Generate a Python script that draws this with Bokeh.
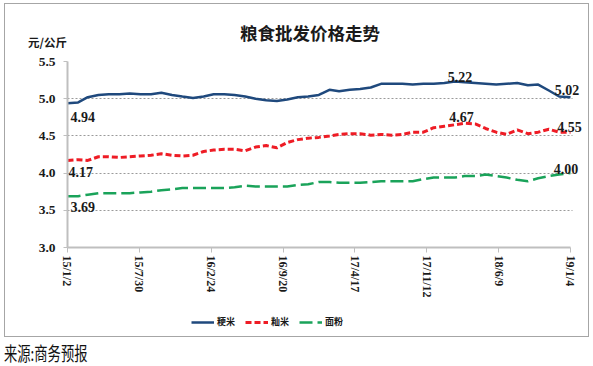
import pandas as pd
from bokeh.plotting import figure
from bokeh.models import (Range1d, FixedTicker, Legend, LegendItem,
                          ColumnDataSource, Div, PrintfTickFormatter)
from bokeh.layouts import column
from bokeh.embed import file_html
from bokeh.resources import INLINE
from bokeh.core.properties import value

# ---------------- data ----------------
start_date = "2015-01-02"
end_date = "2019-01-04"

dates = [
    "2015-01-02", "2015-02-02", "2015-03-02", "2015-04-02", "2015-05-02", "2015-06-02",
    "2015-07-02", "2015-08-02", "2015-09-02", "2015-10-02", "2015-11-02", "2015-12-02",
    "2016-01-02", "2016-02-02", "2016-03-02", "2016-04-02", "2016-05-02", "2016-06-02",
    "2016-07-02", "2016-08-02", "2016-09-02", "2016-10-02", "2016-11-02", "2016-12-02",
    "2017-01-02", "2017-02-02", "2017-03-02", "2017-04-02", "2017-05-02", "2017-06-02",
    "2017-07-02", "2017-08-02", "2017-09-02", "2017-10-02", "2017-11-02", "2017-12-02",
    "2018-01-02", "2018-02-02", "2018-03-02", "2018-04-02", "2018-05-02", "2018-06-02",
    "2018-07-02", "2018-08-02", "2018-09-02", "2018-10-02", "2018-11-02", "2018-12-02",
    "2019-01-04",
]

japonica = [  # 粳米
    4.94, 4.95, 5.02, 5.05, 5.06, 5.06, 5.07, 5.06, 5.06, 5.08, 5.05, 5.03,
    5.01, 5.03, 5.06, 5.06, 5.05, 5.03, 5.00, 4.98, 4.97, 4.99, 5.02, 5.03,
    5.05, 5.12, 5.10, 5.12, 5.13, 5.15, 5.20, 5.20, 5.20, 5.19, 5.20, 5.20,
    5.21, 5.23, 5.22, 5.21, 5.20, 5.19, 5.20, 5.21, 5.18, 5.19, 5.11, 5.03,
    5.02,
]
indica = [  # 籼米
    4.17, 4.18, 4.17, 4.22, 4.22, 4.21, 4.22, 4.23, 4.24, 4.26, 4.24, 4.23,
    4.24, 4.29, 4.31, 4.32, 4.32, 4.30, 4.35, 4.37, 4.34, 4.41, 4.45, 4.47,
    4.48, 4.50, 4.52, 4.53, 4.53, 4.51, 4.52, 4.51, 4.52, 4.55, 4.55, 4.61,
    4.63, 4.65, 4.67, 4.66, 4.60, 4.55, 4.52, 4.58, 4.53, 4.55, 4.59, 4.55,
    4.55,
]
flour = [  # 面粉
    3.69, 3.69, 3.71, 3.73, 3.73, 3.73, 3.73, 3.74, 3.75, 3.77, 3.78, 3.80,
    3.80, 3.80, 3.80, 3.80, 3.81, 3.83, 3.82, 3.82, 3.82, 3.82, 3.84, 3.85,
    3.88, 3.88, 3.87, 3.87, 3.87, 3.88, 3.89, 3.89, 3.89, 3.89, 3.92, 3.94,
    3.94, 3.94, 3.96, 3.96, 3.98, 3.96, 3.94, 3.91, 3.89, 3.93, 3.96, 3.98,
    4.00,
]

series_names = ["粳米", "籼米", "面粉"]

tick_dates = ["2015-01-02", "2015-07-30", "2016-02-24", "2016-09-20",
              "2017-04-17", "2017-11-12", "2018-06-09", "2019-01-04"]
tick_labels = ["15/1/2", "15/7/30", "16/2/24", "16/9/20",
               "17/4/17", "17/11/12", "18/6/9", "19/1/4"]
y_ticks = [3.0, 3.5, 4.0, 4.5, 5.0, 5.5]

label_dates = ["2015-01-02", "2015-01-02", "2015-01-02", "2018-02-02",
               "2018-03-02", "2019-01-04", "2019-01-04", "2019-01-04"]
label_values = [4.94, 4.17, 3.69, 5.22, 4.67, 5.02, 4.55, 4.00]

title_text = "粮食批发价格走势"
unit_text = "元/公斤"
source_text = "来源:商务预报"

# ---------------- helpers ----------------
t0 = pd.Timestamp(start_date)
def to_days(ds):
    return [int((pd.Timestamp(d) - t0).days) for d in ds]

x_days = to_days(dates)
tick_days = to_days(tick_dates)
span_days = to_days([end_date])[0]

src = ColumnDataSource(dict(x=x_days, jap=japonica, ind=indica, flo=flour))

lab_xoff = [3, 1, 3, 5, -3, -3.5, -1, -4.5]
lab_yoff = [14, 12, 11, -5, -6, -7, -5, -4]
lab_align = ["left", "left", "left", "center", "center", "center", "center", "center"]
lab_src = ColumnDataSource(dict(
    x=to_days(label_dates), y=label_values,
    t=[f"{v:.2f}" for v in label_values],
    xo=lab_xoff, yo=lab_yoff, al=lab_align))

SERIF = "Liberation Serif"
CJK = "Noto Sans CJK SC"
INNER_W = 583
TOP_H = 47
MAIN_H = 252
STRIP_H = 33
LINE_STYLES = [dict(line_color="#1f497d", line_width=2.5),
               dict(line_color="#ee1c25", line_width=3, line_dash="6 3"),
               dict(line_color="#1aa35a", line_width=2.5, line_dash="13 5")]

# ---------------- header (title + unit) ----------------
head = Div(text=(
    f'<div style="position:relative;width:{INNER_W}px;height:{TOP_H}px;">'
    f'<span style="position:absolute;left:235px;top:20px;font-family:\'{CJK}\';'
    'font-weight:bold;font-size:17.5px;line-height:17.5px;color:#1a1a1a;'
    f'white-space:nowrap">{title_text}</span>'
    f'<span style="position:absolute;left:23px;top:33px;font-family:\'{CJK}\';'
    'font-weight:bold;font-size:11.5px;line-height:11.5px;color:#1a1a1a;'
    f'white-space:nowrap">{unit_text}</span></div>'),
    width=INNER_W, height=TOP_H, margin=(0, 0, 0, 0))

# ---------------- main chart ----------------
DATA_W = 503
FRAME_W = 517
x_end = span_days * FRAME_W / DATA_W

p = figure(width=INNER_W, height=MAIN_H, frame_width=FRAME_W, frame_height=186,
           min_border_left=62, min_border_right=4, min_border_top=10,
           min_border_bottom=MAIN_H - 196, output_backend="svg",
           toolbar_location=None, x_range=Range1d(0, x_end),
           y_range=Range1d(3.0, 5.5), title=None)
p.outline_line_color = None
p.background_fill_color = "white"
p.border_fill_color = "white"

p.xgrid.visible = False
p.ygrid.ticker = FixedTicker(ticks=y_ticks)
p.ygrid.grid_line_color = "#9a9a9a"
p.ygrid.grid_line_dash = "2 2"
p.ygrid.grid_line_width = 1
if "cross_bounds" in p.ygrid.properties():
    p.ygrid.cross_bounds = (0, span_days + 5)

p.yaxis.ticker = FixedTicker(ticks=y_ticks)
p.yaxis.formatter = PrintfTickFormatter(format="%.1f")
p.yaxis.axis_line_color = "#bfbfbf"
p.yaxis.axis_line_width = 2
p.yaxis.major_tick_line_color = "#bfbfbf"
p.yaxis.major_tick_in = 0
p.yaxis.major_tick_out = 4
p.yaxis.minor_tick_line_color = None
p.yaxis.major_label_standoff = 8
p.yaxis.major_label_text_font = SERIF
p.yaxis.major_label_text_font_style = "bold"
p.yaxis.major_label_text_font_size = "13.5px"
p.yaxis.major_label_text_color = "#1a1a1a"

p.xaxis.ticker = FixedTicker(ticks=tick_days)
p.xaxis.bounds = (0, span_days)
p.xaxis.major_label_overrides = {d: l for d, l in zip(tick_days, tick_labels)}
p.xaxis.major_label_orientation = -1.5708
p.xaxis.axis_line_color = "#bfbfbf"
p.xaxis.axis_line_width = 2
p.xaxis.major_tick_line_color = "#bfbfbf"
p.xaxis.major_tick_in = 0
p.xaxis.major_tick_out = 5
p.xaxis.minor_tick_line_color = None
p.xaxis.major_label_standoff = 3
p.xaxis.major_label_text_font = SERIF
p.xaxis.major_label_text_font_style = "bold"
p.xaxis.major_label_text_font_size = "12px"
p.xaxis.major_label_text_color = "#1a1a1a"

p.line("x", "jap", source=src, **LINE_STYLES[0])
p.line("x", "ind", source=src, **LINE_STYLES[1])
p.line("x", "flo", source=src, **LINE_STYLES[2])

p.text("x", "y", text="t", source=lab_src, x_offset="xo", y_offset="yo",
       text_align="al", text_baseline="alphabetic",
       text_font=value(SERIF), text_font_style="bold",
       text_font_size="14px", text_color="#1a1a1a")

# ---------------- legend strip ----------------
strip = figure(width=INNER_W, height=STRIP_H, min_border_left=62,
               min_border_right=4, min_border_top=0, min_border_bottom=0,
               x_range=Range1d(0, 1), y_range=Range1d(0, 1),
               output_backend="svg", toolbar_location=None,
               x_axis_location=None, y_axis_location=None, title=None)
strip.outline_line_color = None
strip.grid.visible = False
strip.background_fill_color = "white"
strip.border_fill_color = "white"
# legend-only renderers, placed outside the strip's visible range
leg_src = ColumnDataSource(dict(x=[5, 6], y=[5, 6]))
leg_renderers = [strip.line("x", "y", source=leg_src, **st) for st in LINE_STYLES]
legend = Legend(items=[LegendItem(label=n, renderers=[r])
                       for n, r in zip(series_names, leg_renderers)],
                orientation="horizontal", location=(124, 8),
                glyph_width=23, glyph_height=10, label_height=10,
                label_standoff=3, spacing=8, padding=0, margin=0,
                border_line_alpha=0, background_fill_alpha=0,
                label_text_font=CJK, label_text_font_style="bold",
                label_text_font_size="9px", label_text_color="#1a1a1a")
strip.add_layout(legend)

box = column(head, p, strip, spacing=0,
             stylesheets=[":host { border: 1px solid #a6a6a6 !important; "
                          "box-sizing: content-box !important; }"])

src_div = Div(text=('<span style="display:inline-block;font-family:\'Noto Sans CJK SC\';'
                    'font-size:19px;line-height:19px;color:#111;transform:scaleX(0.7);'
                    'transform-origin:0 0;margin-top:6px;white-space:nowrap">'
                    + source_text + '</span>'),
              width=585, height=25, margin=(0, 0, 0, 0))

layout = column(box, src_div, spacing=0, margin=(3, 0, 0, 4))

open("out.html", "w").write(file_html(layout, INLINE))
